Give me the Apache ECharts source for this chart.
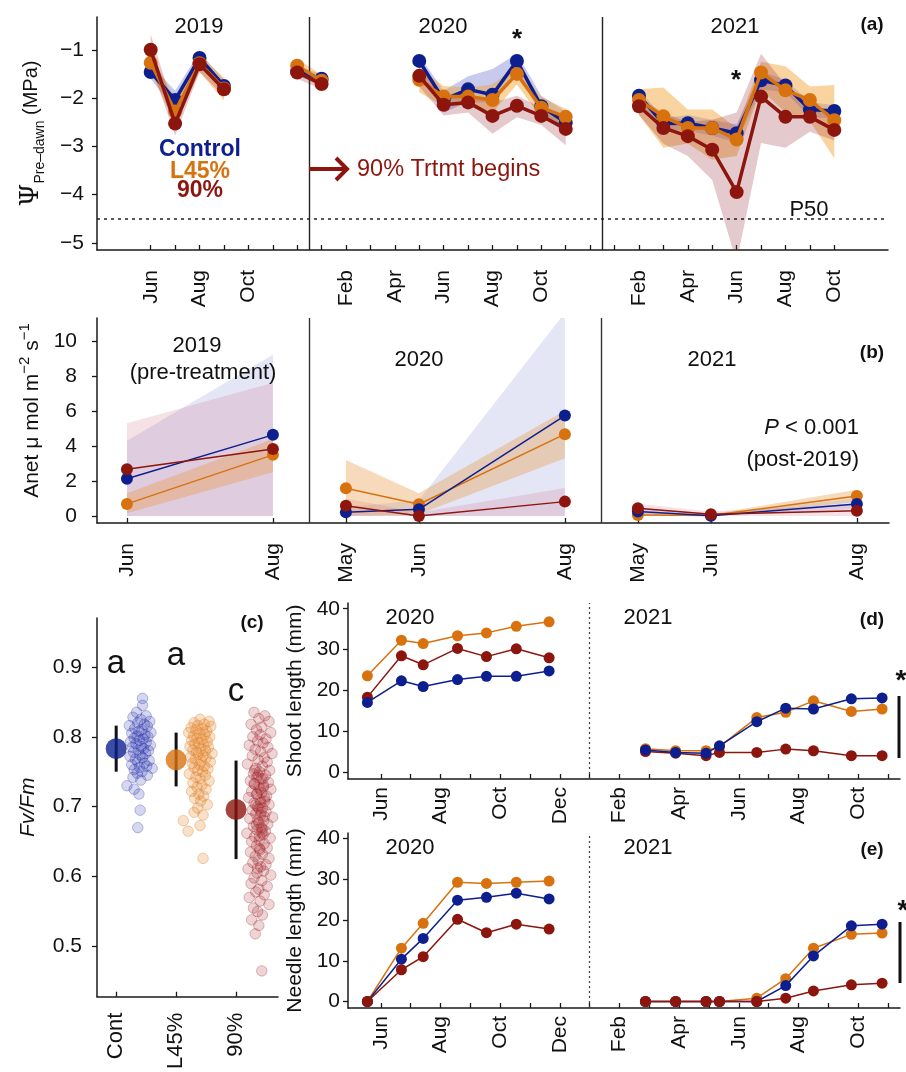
<!DOCTYPE html>
<html>
<head>
<meta charset="utf-8">
<script src="https://cdn.jsdelivr.net/npm/echarts@6/dist/echarts.min.js"></script>
<style>
  html, body { margin: 0; background: #fff; }
  #chart { width: 906px; height: 1072px; }
</style>
</head>
<body>
<div id="chart"></div>
<script>
// ---- data ----
const monthNames = ['Jan','Feb','Mar','Apr','May','Jun','Jul','Aug','Sep','Oct','Nov','Dec'];

// (a) pre-dawn water potential, x = months since Jan 2019, null = gap
const aMonths = [5, 6, 7, 8, null, 11, 12, null, 16, 17, 18, 19, 20, 21, 22, null, 25, 26, 27, 28, 29, 30, 31, 32, 33];
const aCtrl   = [-1.46, -2.04, -1.17, -1.75, null, -1.45, -1.60, null, -1.23, -2.04, -1.82, -1.93, -1.23, -2.17, -2.51, null, -1.95, -2.53, -2.52, -2.62, -2.73, -1.63, -1.74, -2.24, -2.27];
const aL45    = [-1.27, -2.28, -1.28, -1.80, null, -1.33, -1.64, null, -1.62, -1.97, -1.97, -2.04, -1.50, -2.20, -2.39, null, -2.04, -2.38, -2.62, -2.62, -2.86, -1.47, -1.84, -2.04, -2.46];
const a90     = [-1.00, -2.53, -1.30, -1.82, null, -1.47, -1.71, null, -1.54, -2.14, -2.09, -2.37, -2.16, -2.37, -2.64, null, -2.17, -2.62, -2.79, -3.07, -3.95, -1.97, -2.39, -2.39, -2.66];
const aCtrlHi = [-1.30, -1.85, -1.05, -1.62, null, -1.35, -1.50, null, -1.12, -1.85, -1.55, -1.40, -1.08, -1.95, -2.28, null, -1.82, -2.42, -2.35, -2.45, -2.55, -1.45, -1.62, -2.08, -2.15];
const aCtrlLo = [-1.60, -2.25, -1.30, -1.88, null, -1.55, -1.70, null, -1.35, -2.30, -2.08, -2.10, -1.42, -2.38, -2.72, null, -2.08, -2.65, -2.68, -2.78, -2.92, -1.82, -1.88, -2.40, -2.42];
const aL45Hi  = [-1.08, -2.02, -1.10, -1.58, null, -1.18, -1.52, null, -1.38, -1.75, -1.78, -1.72, -1.32, -1.98, -2.22, null, -1.82, -1.78, -2.24, -2.24, -2.62, -1.25, -1.34, -1.76, -1.73];
const aL45Lo  = [-1.45, -2.55, -1.46, -2.05, null, -1.50, -1.78, null, -1.88, -2.18, -2.14, -2.30, -1.72, -2.42, -2.58, null, -2.35, -3.03, -2.94, -3.28, -3.20, -1.83, -2.30, -2.48, -3.25];
const a90Hi   = [-0.68, -2.30, -1.15, -1.68, null, -1.35, -1.60, null, -1.36, -1.95, -1.90, -2.10, -1.95, -2.20, -2.42, null, -2.00, -2.30, -2.50, -2.45, -2.30, -1.08, -1.73, -2.14, -2.45];
const a90Lo   = [-1.32, -2.78, -1.46, -1.97, null, -1.60, -1.82, null, -1.76, -2.36, -2.30, -2.74, -2.40, -2.56, -2.98, null, -2.35, -2.95, -3.20, -3.70, -5.40, -2.93, -3.03, -2.70, -2.88];
const aTicks = [5,6,7,8,9,10,11,12,13,14,15,16,17,18,19,20,21,22,23,24,25,26,27,28,29,30,31,32,33];
const aLabelTicks = [5, 7, 9, 13, 15, 17, 19, 21, 25, 27, 29, 31, 33];
const aYTicks = [-5, -4, -3, -2, -1];

// (b) Anet, compressed x (one unit per month inside each year), null = gap
const bX      = [0, 2, null, 3, 4, 6, null, 7, 8, 10];
const bCtrl   = [2.13, 4.63, null, 0.21, 0.38, 5.73, null, 0.25, 0.02, 0.69];
const bL45    = [0.69, 3.49, null, 1.58, 0.67, 4.67, null, 0.05, 0.03, 1.14];
const b90     = [2.67, 3.83, null, 0.59, 0.00, 0.82, null, 0.44, 0.10, 0.30];
const bCtrlLo = [0, 0, null, 0, 0, 0, null, 0.05, 0, 0.40];
const bCtrlHi = [4.3, 9.2, null, 0.5, 0.9, 11.6, null, 0.45, 0.10, 1.00];
const bL45Lo  = [0.15, 2.5, null, 0, 0.1, 3.3, null, 0, 0, 0.80];
const bL45Hi  = [1.3, 4.4, null, 3.2, 1.3, 6.0, null, 0.20, 0.10, 1.50];
const b90Lo   = [0, 0, null, 0, 0, 0, null, 0.15, 0, 0];
const b90Hi   = [5.3, 7.6, null, 1.0, 0.2, 1.6, null, 0.70, 0.25, 0.70];
const bTicks = [0, 2, 3, 4, 6, 7, 8, 10];
const bTickLabels = ['Jun', 'Aug', 'May', 'Jun', 'Aug', 'May', 'Jun', 'Aug'];
const bYTicks = [0, 2, 4, 6, 8, 10];

// (c) Fv/Fm
const cLabels = ['Cont', 'L45%', '90%'];
const cMeans = [0.783, 0.767, 0.696];
const cLo = [0.750, 0.729, 0.625];
const cHi = [0.816, 0.806, 0.766];
const cCtrlY = [0.855, 0.845, 0.835, 0.830, 0.828, 0.825, 0.822, 0.820, 0.818, 0.816,
  0.815, 0.812, 0.810, 0.808, 0.806, 0.805, 0.803, 0.801, 0.800, 0.798,
  0.797, 0.795, 0.793, 0.792, 0.790, 0.788, 0.786, 0.785, 0.783, 0.781,
  0.780, 0.778, 0.776, 0.774, 0.772, 0.770, 0.768, 0.766, 0.764, 0.762,
  0.760, 0.758, 0.756, 0.755, 0.753, 0.750, 0.748, 0.745, 0.742, 0.738,
  0.730, 0.725, 0.718, 0.695, 0.670];
const cCtrlX = [0.44, 0.44, 0.34, 0.50, 0.28, 0.41, 0.56, 0.36, 0.47, 0.22,
  0.52, 0.31, 0.43, 0.38, 0.58, 0.26, 0.48, 0.35, 0.53, 0.30,
  0.45, 0.39, 0.24, 0.50, 0.33, 0.57, 0.42, 0.27, 0.46, 0.37,
  0.54, 0.29, 0.49, 0.40, 0.23, 0.44, 0.32, 0.55, 0.36, 0.47,
  0.26, 0.51, 0.39, 0.60, 0.30, 0.43, 0.35, 0.52, 0.28, 0.41,
  0.18, 0.30, 0.38, 0.40, 0.36];
const cL45Y = [0.825, 0.822, 0.820, 0.818, 0.816, 0.815, 0.813, 0.811, 0.810, 0.808,
  0.806, 0.805, 0.803, 0.801, 0.800, 0.798, 0.796, 0.795, 0.793, 0.791,
  0.790, 0.788, 0.786, 0.785, 0.783, 0.781, 0.780, 0.778, 0.776, 0.775,
  0.773, 0.771, 0.770, 0.768, 0.766, 0.764, 0.762, 0.760, 0.758, 0.756,
  0.754, 0.752, 0.750, 0.747, 0.745, 0.742, 0.740, 0.737, 0.734, 0.731,
  0.728, 0.725, 0.722, 0.718, 0.715, 0.712, 0.708, 0.703, 0.698, 0.692,
  0.688, 0.680, 0.673, 0.665, 0.626];
const cL45X = [0.40, 0.55, 0.30, 0.47, 0.36, 0.58, 0.25, 0.44, 0.33, 0.51,
  0.21, 0.39, 0.48, 0.29, 0.56, 0.35, 0.43, 0.26, 0.52, 0.38,
  0.31, 0.46, 0.23, 0.54, 0.41, 0.28, 0.49, 0.34, 0.60, 0.37,
  0.45, 0.24, 0.50, 0.32, 0.42, 0.57, 0.27, 0.39, 0.47, 0.30,
  0.53, 0.36, 0.44, 0.22, 0.49, 0.33, 0.40, 0.55, 0.28, 0.43,
  0.35, 0.50, 0.26, 0.38, 0.46, 0.31, 0.41, 0.52, 0.36, 0.30,
  0.45, 0.12, 0.40, 0.20, 0.45];
const c90Y = [0.835, 0.830, 0.826, 0.822, 0.818, 0.814, 0.810, 0.806, 0.803, 0.800,
  0.797, 0.794, 0.791, 0.788, 0.785, 0.782, 0.779, 0.776, 0.773, 0.770,
  0.767, 0.764, 0.761, 0.758, 0.755, 0.752, 0.750, 0.747, 0.745, 0.742,
  0.740, 0.737, 0.735, 0.732, 0.730, 0.727, 0.725, 0.722, 0.720, 0.718,
  0.715, 0.713, 0.710, 0.708, 0.705, 0.703, 0.700, 0.698, 0.695, 0.693,
  0.690, 0.688, 0.685, 0.683, 0.680, 0.677, 0.675, 0.672, 0.670, 0.667,
  0.665, 0.662, 0.660, 0.657, 0.655, 0.652, 0.650, 0.647, 0.644, 0.641,
  0.638, 0.635, 0.632, 0.629, 0.626, 0.623, 0.620, 0.617, 0.614, 0.611,
  0.608, 0.605, 0.602, 0.598, 0.594, 0.590, 0.586, 0.582, 0.578, 0.574,
  0.570, 0.565, 0.560, 0.555, 0.550, 0.545, 0.538, 0.530, 0.518, 0.465,
  0.745, 0.740, 0.733, 0.725, 0.712, 0.702, 0.692, 0.681, 0.668, 0.658,
  0.752, 0.728, 0.718, 0.706, 0.697, 0.686, 0.674, 0.663, 0.640, 0.612];
const c90X = [0.30, 0.48, 0.38, 0.55, 0.25, 0.43, 0.34, 0.58, 0.40, 0.28,
  0.50, 0.36, 0.45, 0.22, 0.53, 0.32, 0.41, 0.60, 0.27, 0.47,
  0.37, 0.52, 0.19, 0.44, 0.33, 0.56, 0.39, 0.29, 0.49, 0.35,
  0.42, 0.24, 0.54, 0.31, 0.46, 0.38, 0.58, 0.26, 0.43, 0.34,
  0.51, 0.21, 0.40, 0.48, 0.30, 0.55, 0.36, 0.44, 0.27, 0.50,
  0.33, 0.41, 0.61, 0.23, 0.46, 0.38, 0.53, 0.29, 0.42, 0.35,
  0.49, 0.18, 0.45, 0.31, 0.57, 0.39, 0.26, 0.47, 0.34, 0.52,
  0.40, 0.24, 0.44, 0.32, 0.55, 0.37, 0.28, 0.50, 0.41, 0.20,
  0.46, 0.35, 0.58, 0.30, 0.43, 0.25, 0.52, 0.38, 0.33, 0.47,
  0.22, 0.40, 0.55, 0.29, 0.36, 0.44, 0.26, 0.38, 0.32, 0.43,
  0.37, 0.45, 0.30, 0.40, 0.48, 0.33, 0.42, 0.36, 0.44, 0.39,
  0.31, 0.46, 0.35, 0.41, 0.38, 0.47, 0.34, 0.43, 0.39, 0.36];
const cYTicks = [0.5, 0.6, 0.7, 0.8, 0.9];

// (d) shoot length, (e) needle length, x = months since Jan 2020
const dX    = [4.55, 5.69, 6.42, 7.57, 8.54, 9.54, 10.64, null, 13.87, 14.88, 15.9, 16.35, 17.6, 18.57, 19.5, 20.77, 21.8];
const dCtrl = [17.1, 22.4, 21.0, 22.7, 23.5, 23.5, 24.8, null, 5.5, 4.9, 4.7, 6.5, 12.4, 15.7, 15.5, 18.0, 18.2];
const dL45  = [23.6, 32.3, 31.5, 33.4, 34.1, 35.7, 36.8, null, 5.8, 5.3, 5.3, 6.3, 13.4, 14.7, 17.5, 14.9, 15.5];
const d90   = [18.4, 28.5, 26.3, 30.3, 28.3, 30.2, 28.0, null, 5.1, 4.7, 4.1, 4.9, 4.9, 5.7, 5.3, 4.1, 4.1];
const eCtrl = [0, 10.4, 15.5, 24.9, 25.6, 26.6, 25.2, null, 0, 0, 0, 0, 0, 3.9, 11.2, 18.6, 19.0];
const eL45  = [0, 13.1, 19.2, 29.3, 29.0, 29.3, 29.6, null, 0, 0, 0, 0, 0.8, 5.6, 13.1, 16.5, 16.8];
const e90   = [0, 7.8, 11.0, 20.2, 16.9, 19.0, 17.8, null, 0, 0, 0, 0, 0, 0.8, 2.6, 4.1, 4.5];
const deTicks = [5,6,7,8,9,10,11,12,13,14,15,16,17,18,19,20,21,22];
const deLabelTicks = [5, 7, 9, 11, 13, 15, 17, 19, 21];
const deYTicks = [0, 10, 20, 30, 40];

// ---- style ----
const BLUE = '#0d1f8f', ORANGE = '#d8720f', RED = '#8c150e';
const AX = '#1a1a1a';
const FONT = '"Liberation Sans", Arial, sans-serif';
const TICK_FS = 21;
const monthFmt = v => monthNames[((Math.round(v) % 12) + 12) % 12];

function xAx(gi, min, max, ticks, labels, fmt, margin, fontSize) {
  return {
    type: 'value', gridIndex: gi, min: min, max: max,
    splitLine: { show: false },
    axisLine: { show: true, onZero: false, lineStyle: { color: AX, width: 1.5 } },
    axisTick: { show: true, inside: true, length: 5, customValues: ticks, lineStyle: { color: AX, width: 1.3 } },
    axisLabel: { customValues: labels, formatter: fmt, rotate: 90, fontSize: fontSize, color: '#111', margin: margin, fontFamily: FONT }
  };
}
function yAx(gi, min, max, ticks, fmt, margin, name, nameGap, nameStyle) {
  return {
    type: 'value', gridIndex: gi, min: min, max: max,
    splitLine: { show: false },
    axisLine: { show: true, onZero: false, lineStyle: { color: AX, width: 1.5 } },
    axisTick: { show: true, inside: false, length: 5, customValues: ticks, lineStyle: { color: AX, width: 1.3 } },
    axisLabel: { customValues: ticks, formatter: fmt, fontSize: TICK_FS, color: '#111', margin: margin, fontFamily: FONT },
    name: name, nameLocation: 'middle', nameRotate: 90, nameGap: nameGap,
    nameTextStyle: Object.assign({ color: '#111', fontSize: 21, fontFamily: FONT }, nameStyle || {})
  };
}
function lineS(ai, xs, ys, color, lw, size, z, extra) {
  return Object.assign({
    type: 'line', xAxisIndex: ai, yAxisIndex: ai, silent: true, z: z,
    data: xs.map((x, i) => [x, ys[i]]),
    symbol: 'circle', symbolSize: size, showSymbol: true, connectNulls: false,
    lineStyle: { color: color, width: lw }, itemStyle: { color: color, opacity: 1 }
  }, extra || {});
}
// shaded ribbon between lo and hi, split at nulls
function bandS(ai, xs, lo, hi, fill) {
  const pts = xs.map((x, i) => [x, lo[i], hi[i]]);
  return {
    type: 'custom', xAxisIndex: ai, yAxisIndex: ai, silent: true, z: 1, clip: true,
    data: pts,
    renderItem: function (params, api) {
      if (params.dataIndex !== 0) return;
      const segs = [];
      let seg = [];
      pts.forEach(p => {
        if (p[0] === null) { if (seg.length) segs.push(seg); seg = []; }
        else seg.push(p);
      });
      if (seg.length) segs.push(seg);
      return {
        type: 'group',
        children: segs.map(s => {
          const top = s.map(p => api.coord([p[0], p[2]]));
          const bot = s.map(p => api.coord([p[0], p[1]])).reverse();
          return { type: 'polygon', shape: { points: top.concat(bot) }, style: { fill: fill } };
        })
      };
    }
  };
}
function vLines(values, style) {
  return {
    silent: true, symbol: ['none', 'none'], label: { show: false },
    data: values.map(v => ({ xAxis: v })),
    lineStyle: style
  };
}
function txt(x, y, s, o) {
  o = o || {};
  return {
    type: 'text', x: x, y: y, silent: true, z: 100,
    style: {
      text: s, fill: o.fill || '#111', align: o.align || 'center', verticalAlign: 'middle',
      font: (o.style || 'normal') + ' ' + (o.weight || 'normal') + ' ' + (o.size || 22) + 'px ' + FONT,
      rich: o.rich
    }
  };
}

const chart = echarts.init(document.getElementById('chart'), null, { renderer: 'canvas' });

const series = [
  // (a)
  bandS(0, aMonths, aCtrlLo, aCtrlHi, 'rgba(85,95,200,0.33)'),
  bandS(0, aMonths, aL45Lo, aL45Hi, 'rgba(242,160,45,0.45)'),
  bandS(0, aMonths, a90Lo, a90Hi, 'rgba(150,45,60,0.26)'),
  lineS(0, aMonths, aCtrl, BLUE, 3.5, 14, 5, {
    markLine: {
      silent: true, symbol: ['none', 'none'], label: { show: false },
      data: [
        { xAxis: 11.5, lineStyle: { type: 'solid', color: '#222', width: 1.4 } },
        { xAxis: 23.5, lineStyle: { type: 'solid', color: '#222', width: 1.4 } },
        { yAxis: -4.5, lineStyle: { type: [3, 4], color: '#222', width: 1.6 } }
      ]
    }
  }),
  lineS(0, aMonths, aL45, ORANGE, 3.5, 14, 6),
  lineS(0, aMonths, a90, RED, 3.5, 14, 7),
  // (b)
  bandS(1, bX, bCtrlLo, bCtrlHi, 'rgba(120,130,210,0.2)'),
  bandS(1, bX, b90Lo, b90Hi, 'rgba(205,90,120,0.18)'),
  bandS(1, bX, bL45Lo, bL45Hi, 'rgba(232,150,60,0.35)'),
  lineS(1, bX, bL45, ORANGE, 1.5, 12, 5, {
    markLine: vLines([2.5, 6.5], { type: 'solid', color: '#333', width: 1.4 })
  }),
  lineS(1, bX, bCtrl, BLUE, 1.5, 12, 6),
  lineS(1, bX, b90, RED, 1.5, 12, 7),
  // (c)
  {
    type: 'scatter', xAxisIndex: 2, yAxisIndex: 2, silent: true, z: 3, symbolSize: 10.5,
    data: cCtrlY.map((y, i) => [0 + cCtrlX[i], y]),
    itemStyle: { color: 'rgba(35,45,170,0.24)', borderColor: 'rgba(35,45,170,0.38)', borderWidth: 1 }
  },
  {
    type: 'scatter', xAxisIndex: 2, yAxisIndex: 2, silent: true, z: 3, symbolSize: 10.5,
    data: cL45Y.map((y, i) => [1 + cL45X[i], y]),
    itemStyle: { color: 'rgba(228,130,40,0.3)', borderColor: 'rgba(228,130,40,0.48)', borderWidth: 1 }
  },
  {
    type: 'scatter', xAxisIndex: 2, yAxisIndex: 2, silent: true, z: 3, symbolSize: 10.5,
    data: c90Y.map((y, i) => [2 + c90X[i], y]),
    itemStyle: { color: 'rgba(160,30,35,0.24)', borderColor: 'rgba(160,30,35,0.38)', borderWidth: 1 }
  },
  {
    type: 'custom', xAxisIndex: 2, yAxisIndex: 2, silent: true, z: 4,
    data: cMeans.map((m, i) => [i, cLo[i], cHi[i]]),
    renderItem: function (params, api) {
      const a = api.coord([api.value(0), api.value(1)]);
      const b = api.coord([api.value(0), api.value(2)]);
      return { type: 'line', shape: { x1: a[0], y1: a[1], x2: b[0], y2: b[1] }, style: { stroke: '#111', lineWidth: 3 } };
    }
  },
  {
    type: 'scatter', xAxisIndex: 2, yAxisIndex: 2, silent: true, z: 5, symbolSize: 21,
    data: cMeans.map((m, i) => ({ value: [i, m], itemStyle: { color: [BLUE, ORANGE, RED][i] } }))
  },
  // (d)
  lineS(3, dX, dL45, ORANGE, 1.5, 11, 5, {
    markLine: vLines([12], { type: [2, 3], color: '#444', width: 1.3 })
  }),
  lineS(3, dX, d90, RED, 1.5, 11, 6),
  lineS(3, dX, dCtrl, BLUE, 1.5, 11, 7),
  // (e)
  lineS(4, dX, eL45, ORANGE, 1.5, 11, 5, {
    markLine: vLines([12], { type: [2, 3], color: '#444', width: 1.3 })
  }),
  lineS(4, dX, eCtrl, BLUE, 1.5, 11, 6),
  lineS(4, dX, e90, RED, 1.5, 11, 7)
];

const graphic = [
  // (a)
  txt(199, 27, '2019'), txt(443, 27, '2020'), txt(735, 27, '2021'),
  txt(872, 25, '(a)', { weight: 'bold', size: 19 }),
  txt(517, 40, '*', { size: 26, weight: 'bold' }),
  txt(736, 81, '*', { size: 26, weight: 'bold' }),
  txt(809, 210, 'P50'),
  txt(200, 150, 'Control', { weight: 'bold', size: 23, fill: BLUE }),
  txt(200, 172, 'L45%', { weight: 'bold', size: 23, fill: ORANGE }),
  txt(200, 191, '90%', { weight: 'bold', size: 23, fill: RED }),
  { type: 'line', silent: true, z: 100, shape: { x1: 309, y1: 169, x2: 345, y2: 169 }, style: { stroke: RED, lineWidth: 4 } },
  { type: 'polyline', silent: true, z: 100, shape: { points: [[336, 158], [347, 169], [336, 180]] }, style: { stroke: RED, lineWidth: 4, fill: null } },
  txt(357, 170, '90% Trtmt begins', { align: 'left', size: 23.5, fill: RED }),
  // (b)
  txt(197, 346, '2019'), txt(203, 373, '(pre-treatment)'),
  txt(419, 360, '2020'), txt(712, 360, '2021'),
  txt(872, 353, '(b)', { weight: 'bold', size: 19 }),
  txt(859, 428, '{i|P} < 0.001', { align: 'right', rich: { i: { fontStyle: 'italic', fontSize: 22, fontFamily: FONT } } }),
  txt(859, 460, '(post-2019)', { align: 'right' }),
  // (c)
  txt(116, 664, 'a', { size: 33 }), txt(176, 656, 'a', { size: 33 }), txt(236, 692, 'c', { size: 33 }),
  txt(252, 623, '(c)', { weight: 'bold', size: 19 }),
  // (d)
  txt(410, 618, '2020'), txt(648, 618, '2021'),
  txt(872, 620, '(d)', { weight: 'bold', size: 19 }),
  txt(901, 681, '*', { size: 28, weight: 'bold' }),
  { type: 'line', silent: true, z: 100, shape: { x1: 899, y1: 696, x2: 899, y2: 758 }, style: { stroke: '#111', lineWidth: 3 } },
  // (e)
  txt(410, 848, '2020'), txt(648, 848, '2021'),
  txt(872, 850, '(e)', { weight: 'bold', size: 19 }),
  txt(903, 911, '*', { size: 28, weight: 'bold' }),
  { type: 'line', silent: true, z: 100, shape: { x1: 900, y1: 922, x2: 900, y2: 983 }, style: { stroke: '#111', lineWidth: 3 } }
];

const minusFmt = v => (v < 0 ? '\u2212' + Math.abs(v) : String(v));

chart.setOption({
  animation: false,
  backgroundColor: '#fff',
  textStyle: { fontFamily: FONT },
  grid: [
    { left: 97, top: 17, width: 791, height: 233 },
    { left: 97, top: 318, width: 792, height: 205 },
    { left: 97, top: 618, width: 181, height: 383 },
    { left: 348, top: 603, width: 552, height: 176 },
    { left: 348, top: 833, width: 552, height: 175 }
  ],
  xAxis: [
    xAx(0, 2.8, 35.2, aTicks, aLabelTicks, monthFmt, 20, TICK_FS),
    xAx(1, -0.41, 10.44, bTicks, bTicks, v => bTickLabels[bTicks.indexOf(v)], 20, TICK_FS),
    xAx(2, -0.32, 2.7, [0, 1, 2], [0, 1, 2], v => cLabels[v], 16, 22),
    xAx(3, 3.9, 22.4, deTicks, deLabelTicks, monthFmt, 8, TICK_FS),
    xAx(4, 3.9, 22.4, deTicks, deLabelTicks, monthFmt, 8, TICK_FS)
  ],
  yAxis: [
    yAx(0, -5.15, -0.32, aYTicks, minusFmt, 13,
      '{p|\u03A8}{s|Pre\u2013dawn}{m| (MPa)}', 50,
      { rich: {
        p: { fontSize: 26, fontFamily: '"DejaVu Serif", serif', verticalAlign: 'middle', lineHeight: 32, color: '#111' },
        s: { fontSize: 14, fontFamily: FONT, verticalAlign: 'bottom', lineHeight: 32, color: '#111' },
        m: { fontSize: 20, fontFamily: FONT, verticalAlign: 'middle', lineHeight: 32, color: '#111' }
      } }),
    yAx(1, -0.4, 11.3, bYTicks, v => String(v), 20,
      '{t|Anet \u03BC mol m}{u|\u22122}{t| s}{u|\u22121}', 50,
      { padding: [0, 0, 0, 20], rich: {
        t: { fontSize: 21, fontFamily: FONT, verticalAlign: 'middle', lineHeight: 30, color: '#111' },
        u: { fontSize: 15, fontFamily: FONT, verticalAlign: 'top', lineHeight: 30, color: '#111' }
      } }),
    yAx(2, 0.428, 0.97, cYTicks, v => v.toFixed(1), 15, 'Fv/Fm', 58, { fontStyle: 'italic' }),
    yAx(3, -1.6, 41.4, deYTicks, v => String(v), 8, 'Shoot length (mm)', 38),
    yAx(4, -1.6, 41.4, deYTicks, v => String(v), 8, 'Needle length (mm)', 38)
  ],
  series: series,
  graphic: graphic
});
</script>
</body>
</html>
